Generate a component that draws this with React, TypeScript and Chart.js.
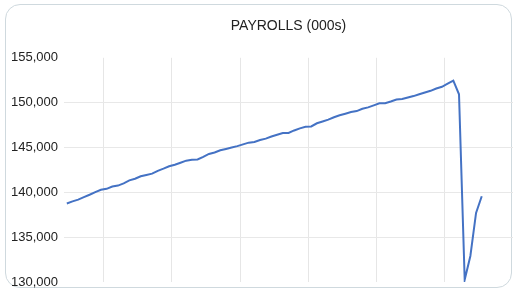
import React, { useEffect, useRef } from "react";
import { Chart, registerables } from "chart.js";

Chart.register(...registerables);

const MONTHS = ["Jan", "Feb", "Mar", "Apr", "May", "Jun", "Jul", "Aug", "Sep", "Oct", "Nov", "Dec"];
const START_YEAR = 2014;
const START_MONTH = 5; // June
const CATEGORY_COUNT = 79; // Jun-2014 .. Dec-2020

const categories: string[] = [];
for (let i = 0; i < CATEGORY_COUNT; i++) {
  const m = (START_MONTH + i) % 12;
  const y = START_YEAR + Math.floor((START_MONTH + i) / 12);
  categories.push(`${MONTHS[m]}-${String(y).slice(2)}`);
}

const payrolls2014 = [138760, 138990, 139190, 139460, 139730, 140020, 140280];
const payrolls2015 = [140390, 140650, 140750, 141000, 141330, 141510, 141790, 141940, 142080, 142400, 142640, 142900];
const payrolls2016 = [143080, 143300, 143530, 143620, 143660, 143950, 144280, 144440, 144690, 144840, 144990, 145150];
const payrolls2017 = [145350, 145540, 145620, 145830, 145990, 146230, 146420, 146620, 146620, 146900, 147130, 147300];
const payrolls2018 = [147350, 147700, 147900, 148100, 148370, 148590, 148770, 148960, 149060, 149310, 149470, 149700];
const payrolls2019 = [149930, 149930, 150120, 150340, 150400, 150570, 150730, 150940, 151130, 151320, 151580, 151770];
const payrolls2020 = [152110, 152460, 150930, 130250, 132900, 137700, 139560, null, null, null, null, null];

const payrolls: (number | null)[] = [
  ...payrolls2014,
  ...payrolls2015,
  ...payrolls2016,
  ...payrolls2017,
  ...payrolls2018,
  ...payrolls2019,
  ...payrolls2020,
];

const yTicks = [130000, 135000, 140000, 145000, 150000, 155000];

export default function App() {
  const ref = useRef<HTMLCanvasElement | null>(null);

  useEffect(() => {
    document.body.style.margin = "0";
    const ctx = ref.current;
    if (!ctx) return;
    const chart = new Chart(ctx, {
      type: "line",
      data: {
        labels: categories,
        datasets: [
          {
            label: "Payrolls",
            data: payrolls,
            borderColor: "#4472c4",
            borderWidth: 2,
            pointRadius: 0,
            tension: 0,
            fill: false,
            spanGaps: false,
          },
        ],
      },
      options: {
        animation: false,
        responsive: false,
        maintainAspectRatio: false,
        layout: { padding: { left: 5, right: 9, top: 0, bottom: 23 } },
        plugins: {
          legend: { display: false },
          tooltip: { enabled: false },
          title: {
            display: true,
            text: "PAYROLLS (000s)",
            fullSize: false,
            color: "#222222",
            font: { family: "'Liberation Sans', Arial, sans-serif", size: 14, weight: "normal" },
            padding: { top: 18, bottom: 23 },
          },
        },
        scales: {
          x: {
            type: "category",
            offset: true,
            ticks: { display: false, autoSkip: false },
            border: { display: false },
            grid: {
              offset: true,
              drawTicks: false,
              lineWidth: 1,
              color: (c: any) => (c.index % 12 === 7 ? "#e6e6e6" : "rgba(0,0,0,0)"),
            },
          },
          y: {
            min: 130000,
            max: 155000,
            afterBuildTicks: (axis: any) => {
              axis.ticks = yTicks.map((v) => ({ value: v }));
            },
            border: { display: false },
            grid: {
              drawTicks: false,
              lineWidth: 1,
              color: (c: any) =>
                c.tick && (c.tick.value === 130000 || c.tick.value === 155000) ? "rgba(0,0,0,0)" : "#e8e8e8",
            },
            ticks: {
              padding: 6,
              color: "#222222",
              font: { family: "'Liberation Sans', Arial, sans-serif", size: 13 },
              callback: (v: any) => Number(v).toLocaleString("en-US"),
            },
          },
        },
      },
    });
    return () => chart.destroy();
  }, []);

  return (
    <div style={{ position: "relative", width: 522, height: 305, background: "#ffffff", overflow: "hidden" }}>
      <div
        style={{
          position: "absolute",
          left: 5,
          top: 4,
          width: 507,
          height: 284,
          border: "1px solid #cfd9de",
          borderRadius: 15,
          boxSizing: "border-box",
        }}
      />
      <canvas ref={ref} width={522} height={305} style={{ position: "absolute", left: 0, top: 0 }} />
    </div>
  );
}
